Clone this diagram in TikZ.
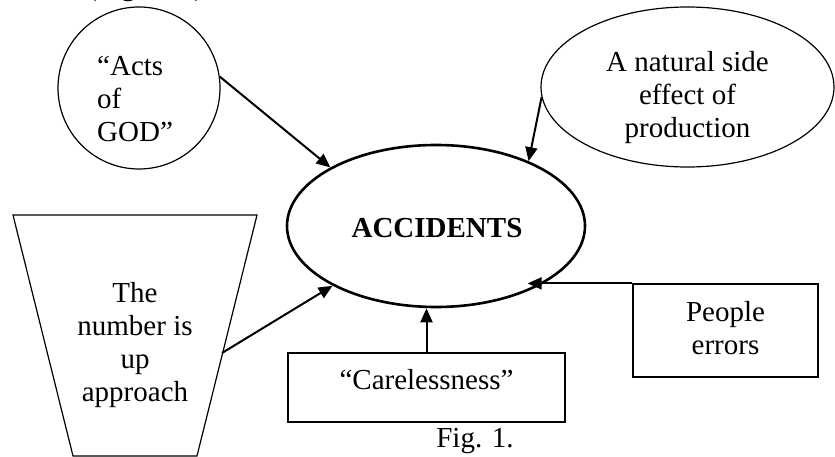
\documentclass[tikz,border=0pt]{standalone}
\usepackage{fontspec}
\setmainfont{Liberation Serif}
\usetikzlibrary{arrows.meta,shapes.geometric}
\begin{document}
\begin{tikzpicture}[x=1pt,y=-1pt,
  thin line/.style={draw=black,line width=1.2pt},
  thick line/.style={draw=black,line width=2.6pt},
  arr/.style={line width=2pt,-{Triangle[length=14pt,width=12pt]}},
  txt/.style={inner sep=0pt,font=\fontsize{29}{33}\selectfont},
  boxnode/.style={thin line,rectangle,inner sep=0pt}]
\useasboundingbox (0,0) rectangle (835,457);
\clip (0,0) rectangle (835,457);
% partially visible caption at the top
\node[txt,anchor=base west] (topcap) at (87,-4.5) {(Figure 1)};
% Acts of GOD
\node[thin line,circle,minimum size=162pt,inner sep=0pt] (god) at (139,88) {};
\node[txt,anchor=west,align=left] (godtxt) at (97,99) {“Acts\\of\\GOD”};
% Natural side effect
\node[thin line,ellipse,minimum width=293pt,minimum height=160pt,inner sep=0pt] (nat) at (687.5,87) {};
\node[txt,align=center] (nattxt) at (687.5,98) {A natural side\\effect of\\production};
% ACCIDENTS
\node[thick line,ellipse,minimum width=298pt,minimum height=162pt,inner sep=0pt] (acc) at (436,226) {};
\node[txt,font=\fontsize{29}{33}\selectfont\bfseries] (acctxt) at (437,228) {ACCIDENTS};
% Trapezoid
\coordinate (tpA) at (13,215);
\coordinate (tpB) at (257,215);
\coordinate (tpC) at (197,456);
\coordinate (tpD) at (73,456);
\draw[thin line] (tpA) -- (tpB) -- (tpC) -- (tpD) -- cycle;
\coordinate (tpout) at (222,353);
\node[txt,align=center] (trtxt) at (135,345) {The\\number is\\up\\approach};
% Carelessness box
\node[boxnode,minimum width=277pt,minimum height=69pt] (care) at (426.5,387.5) {};
\node[txt] (caretxt) at (426.5,380) {“Carelessness”};
% People errors box
\node[boxnode,minimum width=185pt,minimum height=93pt] (pe) at (725.5,330.5) {};
\node[txt,align=center] (petxt) at (725.5,328) {People\\errors};
% Fig caption
\node[txt,anchor=base] (fig) at (475,447) {Fig. 1.};
% arrows
\draw[arr] (god.8) -- (acc.151);
\draw[arr] (nat.184) -- (acc.35);
\draw[arr] (tpout) -- (acc.210);
\draw[arr] (care.north) -- (care.north |- acc.south);
\draw[arr,shorten >=-14pt] (pe.north west) -- (pe.north west -| acc.-29);
\end{tikzpicture}
\end{document}
